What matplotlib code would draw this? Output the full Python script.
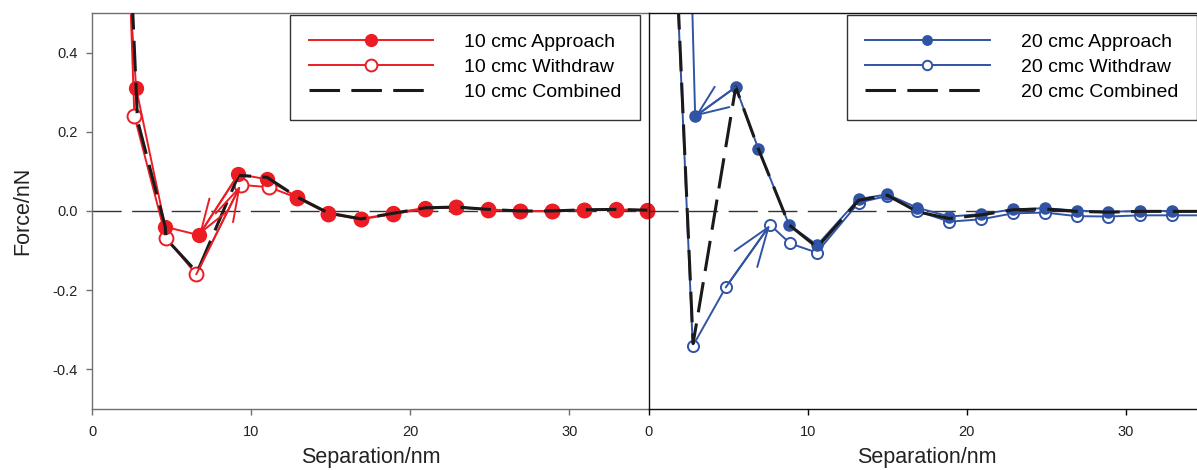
import matplotlib
matplotlib.use("Agg")
import matplotlib.pyplot as plt

plt.rcParams["font.family"] = ["Liberation Sans", "DejaVu Sans"]

# 10 cmc surfactant force curves (separation in nm, force in nN)
approach_10_x = [2.29, 2.77, 4.6, 6.72, 9.2, 11.0, 12.9, 14.85, 16.9, 18.9,
                 20.95, 22.9, 24.9, 26.9, 28.9, 30.9, 32.9, 34.9]
approach_10_y = [0.6, 0.31, -0.04, -0.061, 0.093, 0.08, 0.035, -0.005, -0.02,
                 -0.006, 0.008, 0.01, 0.004, 0.0, 0.0, 0.003, 0.004, 0.002]
withdraw_10_x = [2.35, 2.66, 4.65, 6.55, 9.34, 11.14, 12.9, 14.85, 16.9, 18.9,
                 20.95, 22.9, 24.9, 26.9, 28.9, 30.9, 32.9, 34.9]
withdraw_10_y = [0.6, 0.24, -0.068, -0.16, 0.066, 0.06, 0.033, -0.007, -0.021,
                 -0.008, 0.006, 0.009, 0.003, 0.0, -0.001, 0.002, 0.003, 0.001]
combined_10_x = [2.45, 2.77, 2.85, 4.6, 4.65, 6.6, 9.2, 11.0, 12.9, 14.85,
                 16.9, 18.9, 20.95, 22.9, 24.9, 26.9, 28.9, 30.9, 32.9, 34.9]
combined_10_y = [0.6, 0.31, 0.23, -0.04, -0.07, -0.155, 0.09, 0.085, 0.035,
                 -0.005, -0.02, -0.006, 0.008, 0.01, 0.004, 0.0, 0.0, 0.003,
                 0.004, 0.002]

# 20 cmc surfactant force curves
approach_20_x = [2.69, 2.93, 5.48, 6.9, 8.83, 10.6, 13.2, 15.0, 16.9, 18.9,
                 20.9, 22.9, 24.9, 26.9, 28.9, 30.9, 32.9, 34.9]
approach_20_y = [0.6, 0.239, 0.313, 0.157, -0.035, -0.086, 0.03, 0.042, 0.008,
                 -0.014, -0.008, 0.004, 0.007, 0.001, -0.002, 0.0, 0.0, 0.0]
withdraw_20_x = [1.76, 2.78, 4.85, 7.64, 8.9, 10.57, 13.2, 15.0, 16.9, 18.9,
                 20.9, 22.9, 24.9, 26.9, 28.9, 30.9, 32.9, 34.9]
withdraw_20_y = [0.6, -0.341, -0.193, -0.035, -0.082, -0.105, 0.021, 0.038,
                 0.0, -0.027, -0.021, -0.006, -0.004, -0.013, -0.014, -0.011,
                 -0.011, -0.011]
combined_20_x = [1.78, 2.8, 5.48, 6.9, 8.83, 10.6, 13.2, 15.0, 16.9, 18.9,
                 20.9, 22.9, 24.9, 26.9, 28.9, 30.9, 32.9, 34.9]
combined_20_y = [0.6, -0.335, 0.313, 0.157, -0.035, -0.092, 0.027, 0.04,
                 -0.002, -0.019, -0.01, 0.003, 0.005, -0.001, -0.003, -0.001,
                 -0.001, -0.001]

xticks = [0, 10, 20, 30]
yticks = [-0.4, -0.2, 0.0, 0.2, 0.4]

RED = "#ec1c24"
BLUE = "#3153a4"
BLACK = "#1a1a1a"

fig = plt.figure(figsize=(11.97, 4.70), dpi=100)
ax1 = fig.add_axes([0.0769, 0.1298, 0.4653, 0.8426])
ax2 = fig.add_axes([0.5418, 0.1298, 0.4653, 0.8426])
ax2.patch.set_alpha(0)


def draw_panel(ax, col, ms, app_x, app_y, wd_x, wd_y, cb_x, cb_y, label):
    ax.axhline(0, color="#333333", lw=1.0, dashes=(21, 7.5), zorder=1)
    # connecting lines (clipped), markers separately so the edge point shows
    ax.plot(app_x, app_y, color=col, lw=1.4, zorder=2)
    ax.plot(wd_x, wd_y, color=col, lw=1.4, zorder=2)
    ax.plot(wd_x[1:], wd_y[1:], "o", ms=ms, mfc="white", mec=col, mew=1.4,
            zorder=3, clip_on=False)
    ax.plot(app_x[1:], app_y[1:], "o", ms=ms, color=col, zorder=3,
            clip_on=False)
    ax.plot(cb_x, cb_y, color=BLACK, lw=2.2, dashes=(10, 3.7), zorder=4)

    # legend proxies
    h1, = ax.plot([], [], "-o", color=col, lw=1.4, ms=ms * 0.85)
    h2, = ax.plot([], [], "-o", color=col, lw=1.4, ms=ms * 0.85,
                  mfc="white", mec=col, mew=1.4)
    h3, = ax.plot([], [], color=BLACK, lw=2.2, dashes=(10, 3.7))
    leg = ax.legend([h1, h2, h3],
                    [f"{label} Approach", f"{label} Withdraw",
                     f"{label} Combined"],
                    loc="upper right", bbox_to_anchor=(0.984, 0.995),
                    borderaxespad=0, fontsize=14, numpoints=1,
                    handlelength=6.4, handletextpad=1.6, labelspacing=0.38,
                    borderpad=0.95, fancybox=False, framealpha=1)
    leg.get_frame().set_edgecolor("#333333")
    leg.get_frame().set_linewidth(1.0)
    leg.set_zorder(10)

    ax.set_xlim(0, 35)
    ax.set_ylim(-0.5, 0.5)
    ax.set_xticks(xticks)
    ax.set_xticklabels([str(t) for t in xticks])
    ax.tick_params(axis="x", direction="out", length=4.2, width=1, pad=7,
                   labelsize=10.5, labelcolor="#222222")
    ax.set_xlabel("Separation/nm", fontsize=15.5, color="#222222")
    ax.xaxis.set_label_coords(0.5, -0.096)


draw_panel(ax1, RED, 10, approach_10_x, approach_10_y, withdraw_10_x,
           withdraw_10_y, combined_10_x, combined_10_y, "10 cmc")
draw_panel(ax2, BLUE, 8, approach_20_x, approach_20_y, withdraw_20_x,
           withdraw_20_y, combined_20_x, combined_20_y, "20 cmc")

# direction arrows along approach / withdraw traces
arrow_kw = dict(shrinkA=0, shrinkB=0, mutation_scale=20, lw=1.4)
ax1.annotate("", xy=(approach_10_x[3], approach_10_y[3]),
             xytext=(approach_10_x[4], approach_10_y[4]),
             arrowprops=dict(arrowstyle="->,head_length=1.2,head_width=0.4",
                             color=RED, **arrow_kw), zorder=5)
ax1.annotate("", xy=(withdraw_10_x[4], withdraw_10_y[4]),
             xytext=(withdraw_10_x[3], withdraw_10_y[3]),
             arrowprops=dict(arrowstyle="->,head_length=1.2,head_width=0.35",
                             color=RED, **arrow_kw), zorder=5)
ax2.annotate("", xy=(approach_20_x[1], approach_20_y[1]),
             xytext=(approach_20_x[2], approach_20_y[2]),
             arrowprops=dict(arrowstyle="->,head_length=1.1,head_width=0.45",
                             color=BLUE, **arrow_kw), zorder=5)
ax2.annotate("", xy=(withdraw_20_x[3], withdraw_20_y[3]),
             xytext=(withdraw_20_x[2], withdraw_20_y[2]),
             arrowprops=dict(arrowstyle="->,head_length=1.4,head_width=0.5",
                             color=BLUE, **arrow_kw), zorder=5)

# left panel: grey frame, y ticks
for s in ax1.spines.values():
    s.set_color("#707070")
    s.set_linewidth(1.0)
ax1.spines["right"].set_visible(False)
ax1.set_yticks(yticks)
ax1.set_yticklabels([f"{t:.1f}" for t in yticks])
ax1.tick_params(axis="y", direction="out", length=4.2, width=1, pad=6,
                labelsize=10.5, labelcolor="#222222", color="#707070")
ax1.tick_params(axis="x", color="#707070")
ax1.set_ylabel("Force/nN", fontsize=15.5, color="#222222")
ax1.yaxis.set_label_coords(-0.106, 0.5)

# right panel: black frame, no y ticks
for s in ax2.spines.values():
    s.set_color("#111111")
    s.set_linewidth(1.0)
ax2.spines["right"].set_visible(False)
ax2.set_yticks([])

fig.savefig("out.png", dpi=100)
